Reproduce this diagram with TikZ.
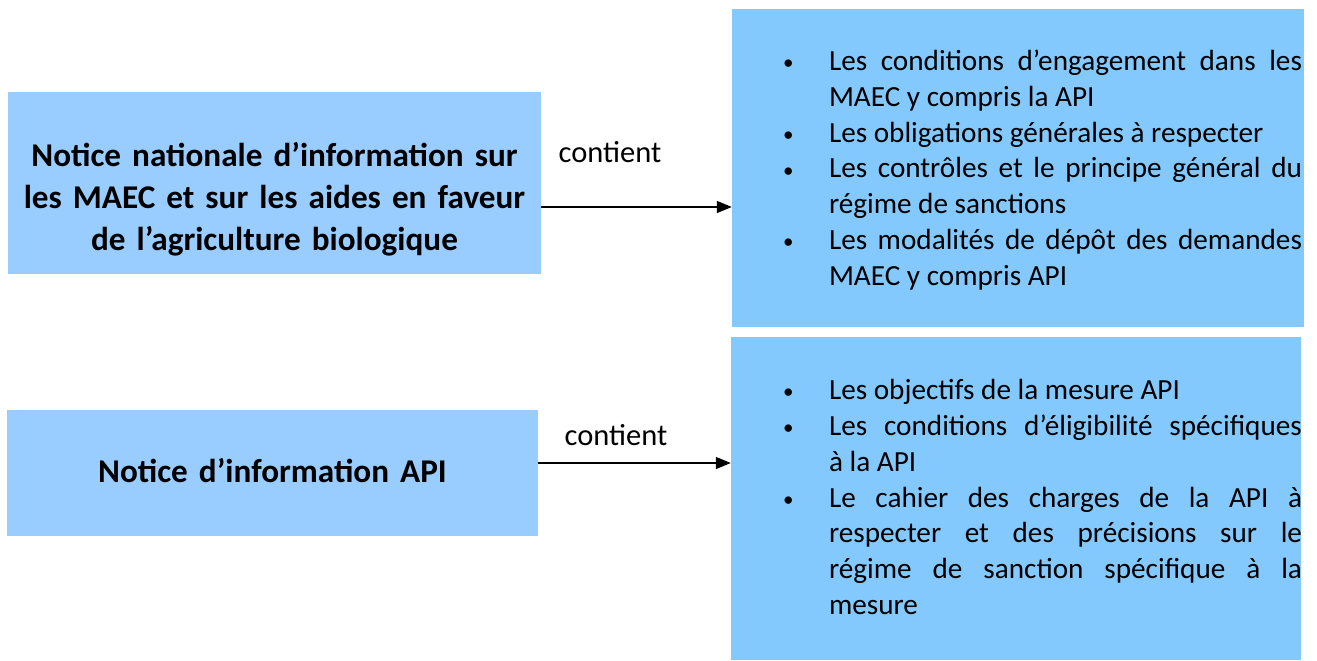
\documentclass[tikz,border=0pt]{standalone}
\usepackage{fontspec}
\setmainfont{Carlito}
\usetikzlibrary{arrows.meta}
\definecolor{leftblue}{HTML}{99CCFF}
\definecolor{rightblue}{HTML}{83C9FE}
\tikzset{
  lbox/.style={fill=leftblue, draw=none, inner sep=0pt},
  ltext/.style={inner sep=0pt, align=center, text width=525pt, font=\fontsize{33.2}{42}\selectfont\bfseries},
  rbox/.style={fill=rightblue, draw=none, inner sep=0pt},
  btext/.style={inner sep=0pt, text width=518pt, align=justify, font=\fontsize{29.2}{35.8}\selectfont},
  lbl/.style={inner sep=0pt, font=\fontsize{30.5}{34}\selectfont},
  arr/.style={line width=1.5pt, -{Triangle[length=15pt,width=12pt]}}
}
\newcommand{\bitem}[1]{\noindent\hangindent=45pt\hangafter=1\makebox[45pt][l]{\hspace{-1pt}\raisebox{0.03em}{\fontsize{21}{21}\selectfont\textbullet}}#1\par}
\begin{document}
\begin{tikzpicture}[x=1pt,y=-1pt]
\useasboundingbox (0,0) rectangle (1317,661);
\node[lbox, minimum width=533pt, minimum height=182pt] (L1) at (274.5,183) {};
\node[lbox, minimum width=531pt, minimum height=126pt] (L2) at (272.5,473) {};
\node[ltext] (L1t) at (L1.center |- 0,199)
  {Notice nationale d’information sur\\les MAEC et sur les aides en faveur\\de l’agriculture biologique};
\node[ltext] (L2t) at (L2.center |- 0,471) {Notice d’information API};
\node[rbox, minimum width=572pt, minimum height=318pt] (R1) at (1018,168) {};
\node[rbox, minimum width=570pt, minimum height=323pt] (R2) at (1016,498.5) {};
\node[btext] (T1) at (1043,170) {%
\bitem{Les conditions d’engagement dans les\linebreak MAEC y compris la API}
\bitem{Les obligations générales à respecter}
\bitem{Les contrôles et le principe général du\linebreak régime de sanctions}
\bitem{Les modalités de dépôt des demandes\linebreak MAEC y compris API}};
\node[btext] (T2) at (1043,497) {%
\bitem{Les objectifs de la mesure API}
\bitem{Les conditions d’éligibilité spécifiques\linebreak à la API}
\bitem{Le cahier des charges de la API à\linebreak respecter et des précisions sur le\linebreak régime de sanction spécifique à la\linebreak mesure}};
\draw[arr] (L1.east |- 0,207) -- (R1.west |- 0,207);
\draw[arr] (L2.east |- 0,463) -- (R2.west |- 0,463);
\node[lbl] (C1) at (610,152) {contient};
\node[lbl] (C2) at (616,435) {contient};
\end{tikzpicture}
\end{document}
